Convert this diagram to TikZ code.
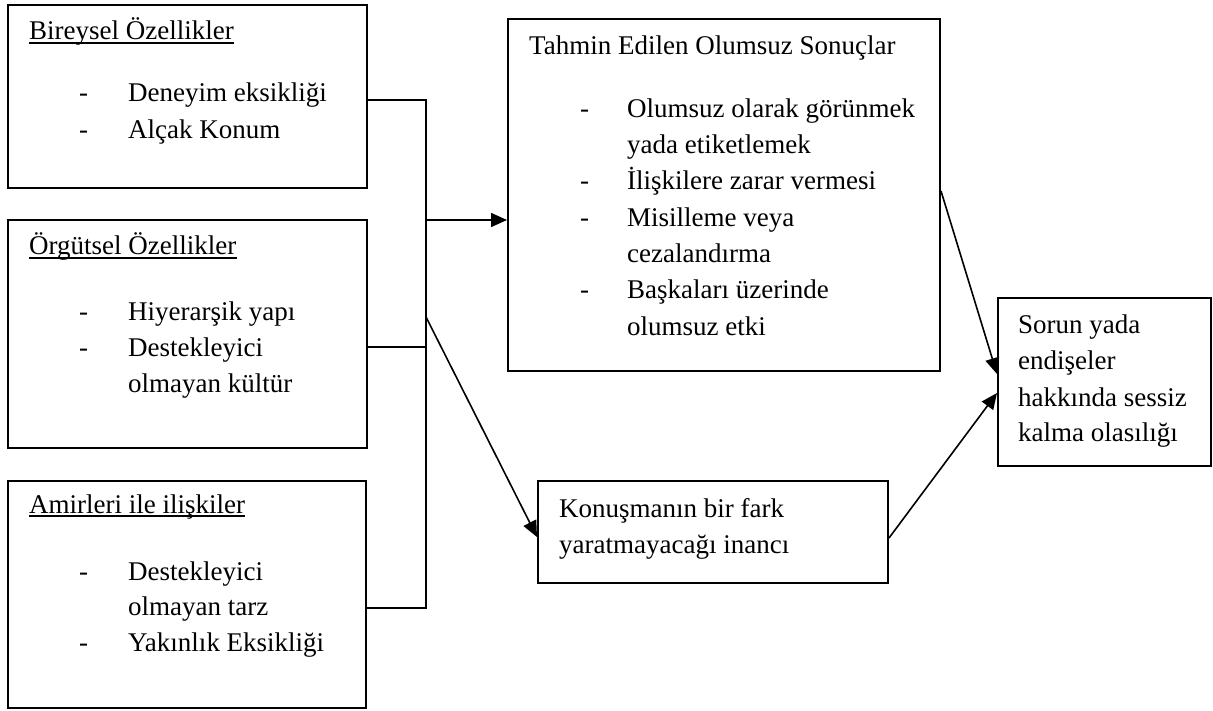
\documentclass[tikz,border=0pt]{standalone}
\usepackage{fontspec}
\setmainfont{Liberation Serif}
\usetikzlibrary{arrows.meta}
\begin{document}
\begin{tikzpicture}[x=1pt,y=-1pt,
  box/.style={draw,line width=2pt,inner sep=0pt,anchor=north west},
  txt/.style={inner sep=0pt,anchor=base west,font=\fontsize{27}{36}\selectfont},
  conn/.style={line width=1.6pt},
  arr/.style={conn,-{Triangle[length=16pt,width=14pt]}},
  uline/.style={line width=1.2pt}]
\useasboundingbox (0,0) rectangle (1213,711);
% boxes
\node[box,minimum width=359pt,minimum height=183pt] (b1) at (7,4) {};
\node[box,minimum width=359pt,minimum height=228pt] (b2) at (7,219) {};
\node[box,minimum width=358pt,minimum height=227pt] (b3) at (7,480) {};
\node[box,minimum width=432pt,minimum height=352pt] (tah) at (507,18) {};
\node[box,minimum width=350pt,minimum height=102pt] (kon) at (537,480) {};
\node[box,minimum width=213pt,minimum height=168pt] (sor) at (997,297) {};
% box 1
\node[txt] (h1) at (29,40) {Bireysel Özellikler};
\draw[uline] ([yshift=-3pt]h1.base west) -- ([yshift=-3pt]h1.base east);
\node[txt] (d1a) at (79,102) {-};
\node[txt] (t1a) at (128,102) {Deneyim eksikliği};
\node[txt] (d1b) at (79,139) {-};
\node[txt] (t1b) at (128,139) {Alçak Konum};
% box 2
\node[txt] (h2) at (29,255) {Örgütsel Özellikler};
\draw[uline] ([yshift=-3pt]h2.base west) -- ([yshift=-3pt]h2.base east);
\node[txt] (d2a) at (79,320) {-};
\node[txt] (t2a) at (128,320) {Hiyerarşik yapı};
\node[txt] (d2b) at (79,356) {-};
\node[txt] (t2b) at (128,356) {Destekleyici};
\node[txt] (t2c) at (128,392) {olmayan kültür};
% box 3
\node[txt] (h3) at (29,513) {Amirleri ile ilişkiler};
\draw[uline] ([yshift=-3pt]h3.base west) -- ([yshift=-3pt]h3.base east);
\node[txt] (d3a) at (79,580) {-};
\node[txt] (t3a) at (128,580) {Destekleyici};
\node[txt] (t3b) at (128,615) {olmayan tarz};
\node[txt] (d3c) at (79,651) {-};
\node[txt] (t3c) at (128,651) {Yakınlık Eksikliği};
% Tahmin box
\node[txt] (h4) at (529,55) {Tahmin Edilen Olumsuz Sonuçlar};
\node[txt] (d4a) at (580,118) {-};
\node[txt] (t4a) at (627,118) {Olumsuz olarak görünmek};
\node[txt] (t4b) at (627,154) {yada etiketlemek};
\node[txt] (d4c) at (580,190) {-};
\node[txt] (t4c) at (627,190) {İlişkilere zarar vermesi};
\node[txt] (d4d) at (580,227) {-};
\node[txt] (t4d) at (627,227) {Misilleme veya};
\node[txt] (t4e) at (627,263) {cezalandırma};
\node[txt] (d4f) at (580,299) {-};
\node[txt] (t4f) at (627,299) {Başkaları üzerinde};
\node[txt] (t4g) at (627,335) {olumsuz etki};
% Konusma box
\node[txt] (t5a) at (559,517) {Konuşmanın bir fark};
\node[txt] (t5b) at (559,553) {yaratmayacağı inancı};
% Sorun box
\node[txt] (t6a) at (1018,334) {Sorun yada};
\node[txt] (t6b) at (1018,370) {endişeler};
\node[txt] (t6c) at (1018,406) {hakkında sessiz};
\node[txt] (t6d) at (1018,441) {kalma olasılığı};
% connectors
\coordinate (v1) at (426,100);
\coordinate (v2) at (426,347);
\coordinate (v3) at (426,608);
\coordinate (va) at (426,220);
\coordinate (vd) at (426,317);
\draw[conn] (b1.east |- v1) -- (v1) -- (v3) -- (b3.east |- v3);
\draw[conn] (b2.east |- v2) -- (v2);
\draw[arr] (va) -- (tah.west |- va);
\draw[arr] (vd) -- ([yshift=-5pt]kon.west);
\draw[arr] ([yshift=4pt]tah.east) -- ([yshift=8pt]sor.west);
\draw[arr] ([yshift=-6pt]kon.east) -- ([yshift=-11pt]sor.west);
\end{tikzpicture}
\end{document}
